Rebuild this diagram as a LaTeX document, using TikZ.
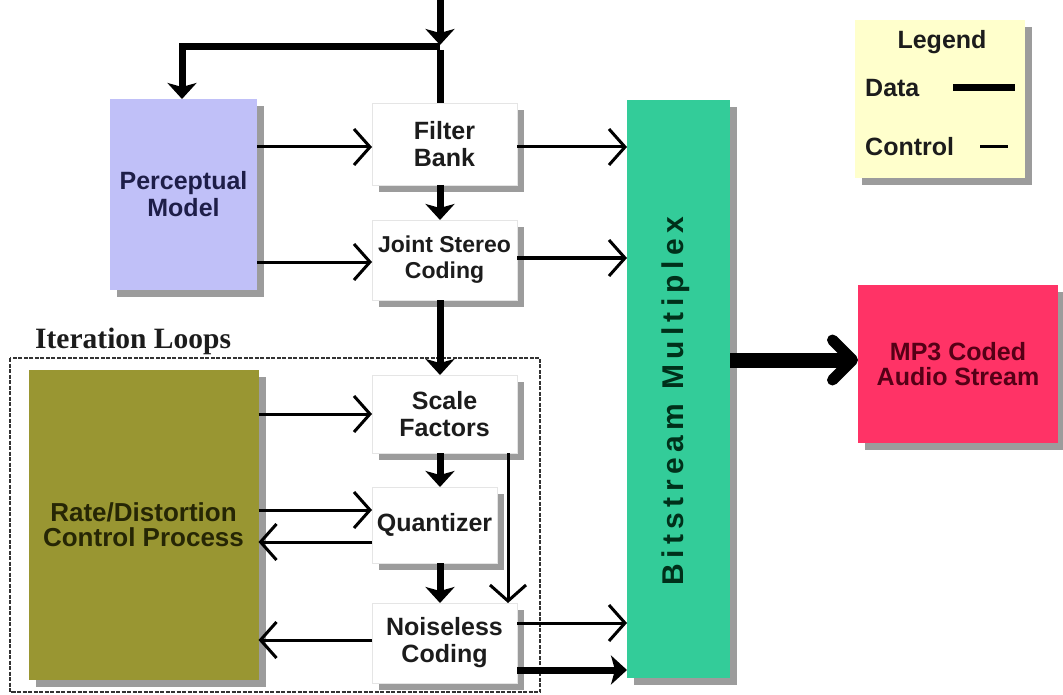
\documentclass[tikz,border=0pt]{standalone}
\usepackage{fontspec}
\setmainfont{Liberation Sans}
\newfontfamily\serifx{Liberation Serif}
\usetikzlibrary{arrows.meta,shadows}
\definecolor{pmfill}{RGB}{192,192,248}
\definecolor{pmtext}{RGB}{30,30,72}
\definecolor{rdfill}{RGB}{153,150,50}
\definecolor{rdtext}{RGB}{38,38,5}
\definecolor{bmfill}{RGB}{51,204,153}
\definecolor{bmtext}{RGB}{0,48,26}
\definecolor{mpfill}{RGB}{255,51,102}
\definecolor{mptext}{RGB}{85,0,22}
\definecolor{lgfill}{RGB}{255,255,204}
\definecolor{ink}{RGB}{28,28,28}
\tikzset{
  shade/.style={drop shadow={shadow xshift=7pt,shadow yshift=-7pt,fill=black!55,opacity=0.7}},
  blk/.style={shade,inner sep=0pt,outer sep=0pt,align=center,
    font=\fontsize{25}{27}\selectfont\bfseries,text=ink},
  wbox/.style={blk,fill=white,draw=black!10,line width=0.8pt},
  data/.style={line width=7pt,draw=black},
  ctrl/.style={line width=3pt,draw=black},
  dtip/.style={-{Stealth[length=16pt,width=29pt,inset=4pt]}},
  ctip/.style={-{Straight Barb[length=16pt,width=36pt]}},
  bigtip/.style={-{Straight Barb[length=20pt,width=40pt,line width=11pt,round]}},
}
\begin{document}
\begin{tikzpicture}[x=1pt,y=-1pt]
\useasboundingbox[fill=white] (0,0) rectangle (1063,695);

% iteration loops frame
\draw[line width=2.6pt,draw=black!80,dash pattern=on 4pt off 1.5pt] (10,358) rectangle (540,692);
\node[anchor=base west,font=\serifx\bfseries\fontsize{29.5}{31}\selectfont,text=ink,inner sep=0pt] (itl) at (35,348) {Iteration Loops};

% blocks
\node[blk,fill=pmfill,text=pmtext,minimum width=147pt,minimum height=191pt] (pm) at (183.5,194.5) {Perceptual\\Model};
\node[wbox,minimum width=145pt,minimum height=82pt] (fb) at (444.5,144) {Filter\\Bank};
\node[wbox,minimum width=145pt,minimum height=80pt,font=\fontsize{23}{26}\selectfont\bfseries] (jsc) at (444.5,260) {Joint Stereo\\Coding};
\node[blk,fill=rdfill,text=rdtext,minimum width=230pt,minimum height=310pt,font=\fontsize{26}{25}\selectfont\bfseries] (rd) at (143.5,525) {Rate/Distortion\\Control Process};
\node[wbox,minimum width=145pt,minimum height=78pt] (sf) at (444.5,414) {Scale\\Factors};
\node[wbox,minimum width=125pt,minimum height=76pt] (qz) at (434.5,525) {Quantizer};
\node[wbox,minimum width=145pt,minimum height=80pt] (nc) at (444.5,643) {Noiseless\\Coding};
\node[blk,fill=bmfill,minimum width=103pt,minimum height=578pt] (bm) at (678.5,389) {};
\node[rotate=90,text=bmtext,font=\fontsize{30}{32}\selectfont\bfseries\addfontfeature{LetterSpace=18}] (bmt) at (676,401) {Bitstream Multiplex};
\node[blk,fill=mpfill,text=mptext,minimum width=200pt,minimum height=158pt,font=\fontsize{25}{25}\selectfont\bfseries] (mp) at (958,364) {MP3 Coded\\Audio Stream};
\node[blk,fill=lgfill,minimum width=170pt,minimum height=158pt] (lg) at (940,99) {};

% legend content
\node[font=\fontsize{25}{27}\selectfont\bfseries,text=ink] (lgt) at (942,42) {Legend};
\node[anchor=west,inner sep=0pt,font=\fontsize{25}{27}\selectfont\bfseries,text=ink] (lgd) at (865,88) {Data};
\node[anchor=west,inner sep=0pt,font=\fontsize{25}{27}\selectfont\bfseries,text=ink] (lgc) at (865,147) {Control};
\coordinate (d1) at (953,88); \coordinate (d2) at (1015,88);
\coordinate (c1) at (980,147); \coordinate (c2) at (1008,147);
\draw[data] (d1) -- (d2);
\draw[ctrl] (c1) -- (c2);

% input
\coordinate (in) at (440,0);
\coordinate (jn) at (440,50);
\draw[data,dtip,shorten >=5pt] (in) -- (jn);
\draw[data] (jn) -- (jn |- fb.north);
\draw[data,dtip] ([yshift=3.5pt]jn) -| ([xshift=-1.5pt]pm.north);

% data path
\draw[data,dtip] (fb.south -| jn) -- (jsc.north -| jn);
\draw[data,dtip] (jsc.south -| jn) -- (sf.north -| jn);
\draw[data,dtip] (sf.south -| jn) -- (qz.north -| jn);
\draw[data,dtip] (qz.south -| jn) -- (nc.north -| jn);

% control from perceptual model
\draw[ctrl,ctip] ([yshift=-3pt]pm.east |- fb.west) -- ([yshift=-3pt]fb.west);
\draw[ctrl,ctip] ([yshift=-2pt]pm.east |- jsc.west) -- ([yshift=-2pt]jsc.west);

% to bitstream multiplex
\draw[ctrl,ctip] ([yshift=-3pt]fb.east) -- ([yshift=-3pt]fb.east -| bm.west);
\draw[ctrl,ctip] ([yshift=2pt]jsc.east) -- ([yshift=2pt]jsc.east -| bm.west);
\draw[ctrl,ctip] ([yshift=20pt]nc.east) -- ([yshift=20pt]nc.east -| bm.west);
\draw[data,dtip] ([yshift=-27pt]nc.east) -- ([yshift=-27pt]nc.east -| bm.west);

% rate/distortion loop
\draw[ctrl,ctip] (rd.east |- sf.west) -- (sf.west);
\draw[ctrl,ctip] ([yshift=15pt]rd.east |- qz.west) -- ([yshift=15pt]qz.west);
\draw[ctrl,ctip] ([yshift=-17pt]qz.west) -- ([yshift=-17pt]qz.west -| rd.east);
\draw[ctrl,ctip] ([yshift=3pt]nc.west) -- ([yshift=3pt]nc.west -| rd.east);
\draw[ctrl,ctip] ([xshift=-9pt]sf.south east) -- ([xshift=-9pt]sf.south east |- nc.north);

% output
\draw[line width=15pt,bigtip] ([yshift=4pt]bm.east |- mp.west) -- ([yshift=4pt]mp.west);
\end{tikzpicture}
\end{document}
